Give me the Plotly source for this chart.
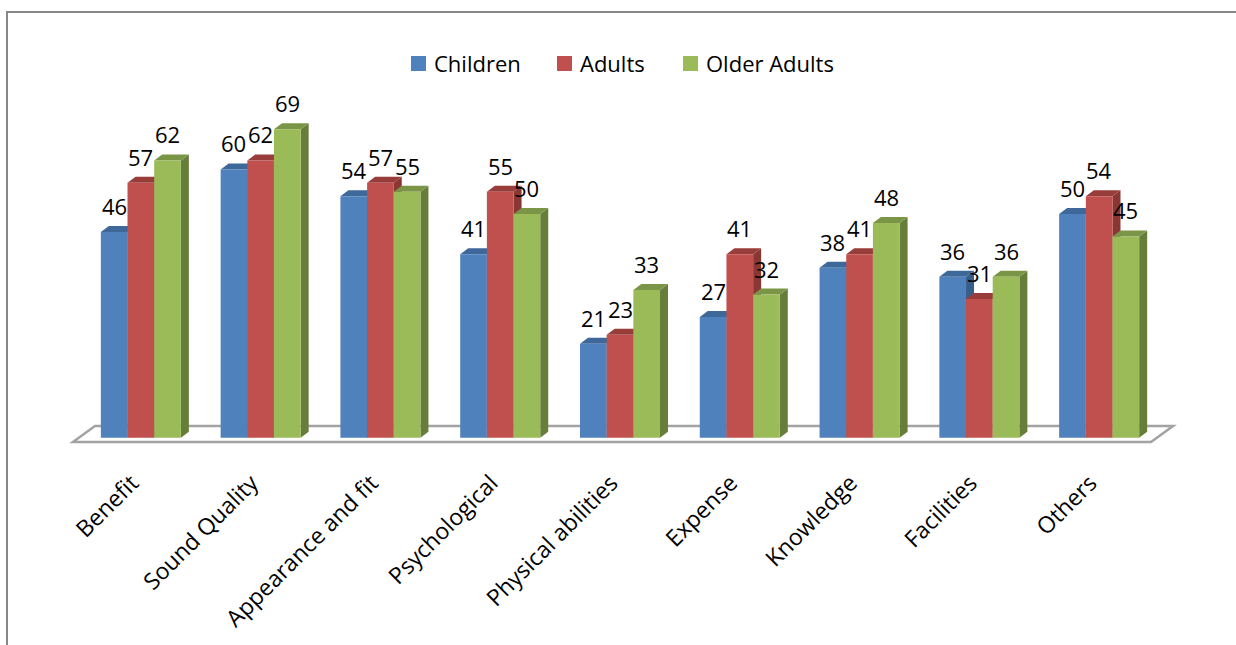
import plotly.graph_objects as go

# ---- data -------------------------------------------------------------
categories = ["Benefit", "Sound Quality", "Appearance and fit", "Psychological",
              "Physical abilities", "Expense", "Knowledge", "Facilities", "Others"]
series_names = ["Children", "Adults", "Older Adults"]
children = [46, 60, 54, 41, 21, 27, 38, 36, 50]
adults = [57, 62, 57, 55, 23, 41, 41, 31, 54]
older_adults = [62, 69, 55, 50, 33, 32, 48, 36, 45]

# ---- styling ----------------------------------------------------------
FONT = "Open Sans"
front_colors = ["#4F81BD", "#C0504D", "#9BBB59"]
top_colors = ["#3D6899", "#983D3A", "#7B9547"]
side_colors = ["#375D8A", "#8A3633", "#677E3A"]

W, H = 1236, 645
ML, MR, MT, MB = 63, 53, 80, 185
XR = [-0.65, 8.7]
YR = [-5, 80]
plot_w = W - ML - MR
plot_h = H - MT - MB
px_x = (XR[1] - XR[0]) / plot_w      # data units per pixel (x)
px_y = (YR[1] - YR[0]) / plot_h      # data units per pixel (y)

BARGAP = 0.332
group_w = 1 - BARGAP
bar_w = group_w / 3
DEPTH_X, DEPTH_Y = 8 * px_x, 6 * px_y   # pseudo-3D extrusion of each bar

all_values = [children, adults, older_adults]
xs = list(range(len(categories)))

fig = go.Figure()
for name, vals, col in zip(series_names, all_values, front_colors):
    fig.add_trace(go.Bar(
        x=xs, y=vals, name=name,
        marker=dict(color=col, line=dict(width=0)),
        hoverinfo="skip", showlegend=False,
    ))

shapes = []

# floor of the 3D plot area
f_front_dx, f_front_dy = -8 * px_x, -4.4 * px_y
f_back_dx, f_back_dy = 14 * px_x, 11.6 * px_y
fl, fr = -0.5, len(categories) - 0.5
floor = (f"M {fl + f_front_dx},{f_front_dy} L {fr + f_front_dx},{f_front_dy} "
         f"L {fr + f_back_dx},{f_back_dy} L {fl + f_back_dx},{f_back_dy} Z")
shapes.append(dict(type="path", path=floor, xref="x", yref="y", layer="below",
                   line=dict(color="#A3A3A3", width=2.5), fillcolor="rgba(0,0,0,0)"))

# top and side faces, drawn beneath the bar fronts so neighbours occlude them
annotations = []
for s, vals in enumerate(all_values):
    for i, v in enumerate(vals):
        xl = i - group_w / 2 + s * bar_w
        xr = xl + bar_w
        top = (f"M {xl},{v} L {xr},{v} L {xr + DEPTH_X},{v + DEPTH_Y} "
               f"L {xl + DEPTH_X},{v + DEPTH_Y} Z")
        side = (f"M {xr},0 L {xr},{v} L {xr + DEPTH_X},{v + DEPTH_Y} "
                f"L {xr + DEPTH_X},{DEPTH_Y} Z")
        shapes.append(dict(type="path", path=side, xref="x", yref="y", layer="below",
                           line=dict(width=0), fillcolor=side_colors[s]))
        shapes.append(dict(type="path", path=top, xref="x", yref="y", layer="below",
                           line=dict(width=0), fillcolor=top_colors[s]))
        annotations.append(dict(
            x=(xl + xr) / 2, y=v, xref="x", yref="y", text=str(v),
            showarrow=False, yshift=26, yanchor="middle", xanchor="center",
            font=dict(family=FONT, size=22, color="black"),
        ))

# pixel -> paper helpers
fx = lambda p: (p - ML) / plot_w
fy = lambda p: (H - MB - p) / plot_h

# chart-area frame (left and top edges)
frame = (f"M {fx(7)},{fy(660)} L {fx(7)},{fy(12)} L {fx(1260)},{fy(12)}")
shapes.append(dict(type="path", path=frame, xref="paper", yref="paper",
                   line=dict(color="#878787", width=2)))

# legend: coloured square keys followed by the series names
legend_key_left = [411, 557, 683]
LEG_Y, KEY = 63.5, 15
for name, col, kx in zip(series_names, front_colors, legend_key_left):
    shapes.append(dict(type="rect", xref="paper", yref="paper",
                       x0=fx(kx), x1=fx(kx + KEY),
                       y0=fy(LEG_Y + KEY / 2), y1=fy(LEG_Y - KEY / 2),
                       line=dict(width=0), fillcolor=col))
    annotations.append(dict(
        x=fx(kx + KEY + 6), y=fy(LEG_Y), xref="paper", yref="paper",
        text=name, showarrow=False, xanchor="left", yanchor="middle",
        font=dict(family=FONT, size=22, color="black"),
    ))

fig.update_layout(
    width=W, height=H,
    margin=dict(l=ML, r=MR, t=MT, b=MB, autoexpand=False),
    paper_bgcolor="white", plot_bgcolor="white",
    barmode="group", bargap=BARGAP, bargroupgap=0,
    font=dict(family=FONT, size=22, color="black"),
    showlegend=False,
    xaxis=dict(range=XR, tickmode="array", tickvals=xs, ticktext=categories,
               tickangle=-45, showgrid=False, zeroline=False, showline=False,
               automargin=False, ticks="", ticklabelshift=-9, ticklabelstandoff=4,
               tickfont=dict(family=FONT, size=23, color="black")),
    yaxis=dict(range=YR, visible=False, showgrid=False, zeroline=False,
               automargin=False),
    shapes=shapes,
    annotations=annotations,
)

fig.write_html("out.html")
